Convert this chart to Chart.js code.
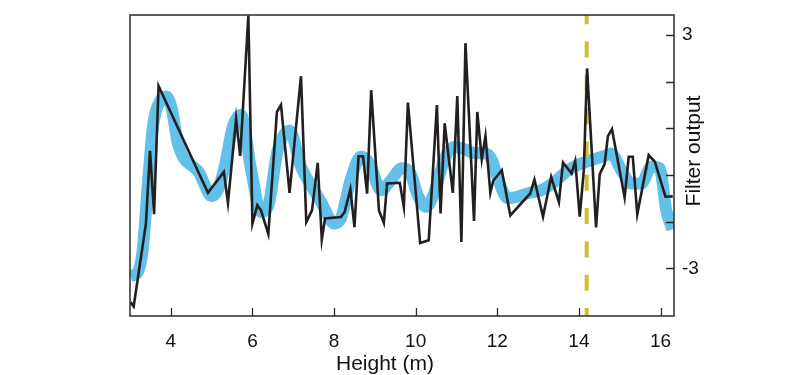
<!DOCTYPE html>
<html>
<head>
<meta charset="utf-8">
<script src="https://cdn.jsdelivr.net/npm/chart.js@4.4.1/dist/chart.umd.min.js"></script>
<style>
  html, body { margin: 0; padding: 0; background: #fff; }
  #wrap { width: 804px; height: 375px; }
</style>
</head>
<body>
<div id="wrap"><canvas id="filterChart" width="804" height="375"></canvas></div>
<script>
// raw filter output (black line)
const rawX = [3.01, 3.09, 3.39, 3.49, 3.59, 3.70, 4.91, 5.30, 5.40, 5.60, 5.70, 5.90, 6.00, 6.12, 6.21, 6.39,
  6.60, 6.70, 6.91, 7.19, 7.32, 7.46, 7.60, 7.70, 7.78, 8.17, 8.26, 8.40, 8.50, 8.60, 8.71, 8.81, 8.91,
  9.10, 9.22, 9.30, 9.61, 9.71, 9.81, 10.11, 10.32, 10.52, 10.61, 10.71, 10.91, 11.02, 11.12, 11.22,
  11.43, 11.51, 11.62, 11.71, 11.83, 11.90, 12.11, 12.32, 12.81, 12.91, 13.12, 13.32, 13.51, 13.61,
  13.82, 13.91, 14.02, 14.12, 14.20, 14.42, 14.51, 14.63, 14.71, 14.81, 15.12, 15.22, 15.32, 15.43,
  15.71, 15.86, 16.12, 16.30];
const rawY = [-3.87, -3.98, -1.85, 0.02, -1.61, 1.69, -1.06, -0.52, -1.32, 0.85, -0.11, 3.50, -1.85, -1.38, -1.51, -2.12,
  1.02, 1.20, -1.06, 1.94, -1.81, -1.51, -0.29, -2.26, -1.72, -1.68, -1.55, -0.97, -1.94, -0.12, -0.12, -1.08, 1.58,
  -1.51, -1.83, -0.82, -0.80, -1.42, 1.26, -2.35, -2.28, 1.20, -1.59, 0.73, -1.06, 1.43, -2.32, 2.79,
  -1.78, 1.02, -0.20, 0.40, -1.06, -0.75, -0.48, -1.64, -1.07, -0.72, -1.67, -0.65, -1.30, -0.28,
  -0.56, -0.24, -1.67, -0.48, 2.14, -1.95, -0.58, -0.32, 0.40, 0.58, -1.18, -0.13, -0.13, -1.61,
  -0.09, -0.26, -1.16, -1.15];

// smoothed output (thick blue line)
const smoothX = [3.01, 3.19, 3.31, 3.44, 3.56, 3.68, 3.88, 4.02, 4.17, 4.32, 4.50, 4.70, 4.83, 4.99, 5.15,
  5.32, 5.52, 5.72, 5.97, 6.21, 6.38, 6.62, 6.91, 7.19, 7.46, 7.68, 8.01, 8.17, 8.42, 8.66, 8.87, 9.15,
  9.40, 9.66, 9.86, 10.05, 10.26, 10.46, 10.71, 10.95, 11.20, 11.44, 11.69, 11.87, 12.01, 12.26, 12.50,
  12.75, 13.08, 13.40, 13.73, 14.02, 14.30, 14.63, 14.79, 15.04, 15.28, 15.53, 15.77, 15.98, 16.14, 16.29];
const smoothY = [-3.20, -3.10, -2.54, -0.81, 0.63, 1.18, 1.42, 1.12, 0.22, -0.17, -0.35, -0.55, -0.86, -1.14, -0.99,
  -0.39, 0.64, 0.94, -0.48, -1.55, -1.42, 0.04, 0.54, -0.39, -0.91, -1.29, -1.85, -1.71, -0.68, -0.13, -0.30, -0.99,
  -0.73, -0.43, -0.53, -1.12, -1.42, -1.04, -0.18, 0.12, 0.06, -0.04, -0.04, -0.22, -0.68, -1.20, -1.16,
  -1.07, -0.99, -0.78, -0.48, -0.32, -0.22, -0.11, -0.05, -0.48, -0.82, -0.82, -0.39, -0.43, -1.51, -2.00];

const markerHeight = 14.19;
const xTicks = [4, 6, 8, 10, 12, 14, 16];
const yTicks = [-3, -1.8, -0.6, 0.6, 1.8, 3];
const yLabelled = [-3, 3];
const xMin = 3.0, xMax = 16.33;
const yMin = -4.227, yMax = 3.514;

const FONT = "'Liberation Sans', Arial, Helvetica, sans-serif";
const INK = '#231f20';

function toPoints(xs, ys) {
    return xs.map((x, i) => ({ x: x, y: ys[i] }));
}

// frame, inward tick marks and axis titles
const framePlugin = {
    id: 'frame',
    afterDatasetsDraw(chart) {
        const { ctx, chartArea: a, scales } = chart;
        ctx.save();
        ctx.strokeStyle = '#2b2b2b';
        ctx.lineWidth = 1.5;
        ctx.strokeRect(a.left, a.top, a.right - a.left, a.bottom - a.top);

        ctx.lineWidth = 1.3;
        ctx.beginPath();
        xTicks.forEach(v => {
            const px = Math.round(scales.x.getPixelForValue(v)) + 0.5;
            ctx.moveTo(px, a.bottom);
            ctx.lineTo(px, a.bottom - 8);
        });
        yTicks.forEach(v => {
            const py = Math.round(scales.y.getPixelForValue(v)) + 0.5;
            ctx.moveTo(a.right, py);
            ctx.lineTo(a.right - 8, py);
        });
        ctx.stroke();

        ctx.fillStyle = '#111';
        ctx.font = '21px ' + FONT;
        ctx.textAlign = 'center';
        ctx.textBaseline = 'alphabetic';
        ctx.fillText('Height (m)', 385, 370);

        ctx.translate(700, 151);
        ctx.rotate(-Math.PI / 2);
        ctx.fillText('Filter output', 0, 0);
        ctx.restore();
    }
};

const ctx = document.getElementById('filterChart');

new Chart(ctx, {
    type: 'line',
    data: {
        datasets: [
            {
                label: 'Raw',
                data: toPoints(rawX, rawY),
                borderColor: INK,
                borderWidth: 2.6,
                pointRadius: 0,
                tension: 0,
                order: 0
            },
            {
                label: 'Marker',
                data: [{ x: markerHeight, y: yMax }, { x: markerHeight, y: yMin }],
                borderColor: '#cdbf35',
                borderWidth: 4,
                borderDash: [16, 17.3],
                borderDashOffset: 6.7,
                borderCapStyle: 'butt',
                pointRadius: 0,
                order: 1
            },
            {
                label: 'Smoothed',
                data: toPoints(smoothX, smoothY),
                borderColor: '#62c1e9',
                borderWidth: 12,
                borderCapStyle: 'butt',
                borderJoinStyle: 'round',
                cubicInterpolationMode: 'monotone',
                pointRadius: 0,
                order: 2
            }
        ]
    },
    options: {
        responsive: false,
        animation: false,
        layout: {
            padding: { left: 130, top: 15, right: 0, bottom: 0 }
        },
        plugins: {
            legend: { display: false },
            tooltip: { enabled: false }
        },
        scales: {
            x: {
                type: 'linear',
                min: xMin,
                max: xMax,
                afterBuildTicks: s => { s.ticks = xTicks.map(v => ({ value: v })); },
                afterFit: s => { s.height = 59; s.paddingLeft = 0; s.paddingRight = 0; },
                grid: { display: false, drawTicks: false },
                border: { display: false },
                ticks: {
                    color: '#111',
                    padding: 14,
                    maxRotation: 0,
                    font: { family: FONT, size: 19 }
                }
            },
            y: {
                type: 'linear',
                position: 'right',
                min: yMin,
                max: yMax,
                afterBuildTicks: s => { s.ticks = yTicks.map(v => ({ value: v })); },
                afterFit: s => { s.width = 130; s.paddingTop = 0; s.paddingBottom = 0; },
                grid: { display: false, drawTicks: false },
                border: { display: false },
                ticks: {
                    color: '#111',
                    padding: 8,
                    font: { family: FONT, size: 19 },
                    callback: function(value) {
                        return yLabelled.includes(value) ? String(value) : '';
                    }
                }
            }
        }
    },
    plugins: [framePlugin]
});
</script>
</body>
</html>
